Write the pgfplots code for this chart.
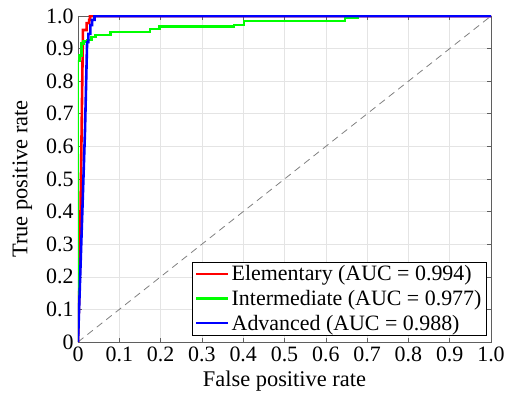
\documentclass[border=0pt]{standalone}
\usepackage{fontspec}
\setmainfont{Liberation Serif}
\usepackage{pgfplots}
\pgfplotsset{compat=1.18}

\definecolor{rocred}{RGB}{255,0,0}
\definecolor{rocgreen}{RGB}{0,255,0}
\definecolor{rocblue}{RGB}{0,0,255}
\definecolor{framegray}{RGB}{95,95,95}
\definecolor{gridgray}{RGB}{228,228,228}

\begin{document}
\begin{tikzpicture}
\begin{axis}[
  width=413bp, height=326bp, scale only axis,
  xmin=0, xmax=1, ymin=0, ymax=1,
  xtick={0,0.1,0.2,0.3,0.4,0.5,0.6,0.7,0.8,0.9,1},
  ytick={0,0.1,0.2,0.3,0.4,0.5,0.6,0.7,0.8,0.9,1},
  xticklabels={0,0.1,0.2,0.3,0.4,0.5,0.6,0.7,0.8,0.9,1.0},
  yticklabels={0,0.1,0.2,0.3,0.4,0.5,0.6,0.7,0.8,0.9,1.0},
  tick label style={font=\fontsize{22}{26}\selectfont},
  xticklabel style={yshift=-1bp},
  yticklabel style={xshift=-1bp},
  tick align=inside, major tick length=4bp,
  tick style={framegray, line width=0.6pt},
  axis line style={framegray, line width=0.8pt},
  grid=major, grid style={gridgray, line width=0.6pt},
  xlabel={False positive rate}, ylabel={True positive rate},
  label style={font=\fontsize{22.5}{26}\selectfont},
  xlabel style={yshift=-3bp},
  ylabel style={yshift=7bp},
  legend style={at={(rel axis cs:0.99,0.02)}, anchor=south east,
    font=\fontsize{22}{26}\selectfont, draw=black, line width=0.9pt,
    row sep=4bp, inner xsep=3bp, inner ysep=1.5bp},
  legend cell align=left,
  legend image code/.code={\draw[#1, line width=2.6pt] (0bp,0bp) -- (32bp,0bp);},
]
\addplot[gray, dashed, line width=0.8pt, dash pattern=on 7bp off 5bp, forget plot]
  coordinates {(0,0) (1,1)};
\addplot[rocred, line width=2.6pt, line join=miter] coordinates {
  (0,0) (0.004,0.2) (0.012,0.957) (0.021,0.957) (0.021,0.978) (0.027,0.978)
  (0.027,0.988) (0.029,0.988) (0.029,1) (1,1)};
\addplot[rocgreen, line width=2.6pt, line join=miter] coordinates {
  (0,0) (0,0.862) (0.004,0.862) (0.004,0.878) (0.008,0.878) (0.008,0.916)
  (0.014,0.916) (0.014,0.921) (0.022,0.921) (0.022,0.926) (0.032,0.926)
  (0.032,0.935) (0.043,0.935) (0.043,0.942) (0.078,0.942) (0.078,0.951)
  (0.174,0.951) (0.174,0.960) (0.198,0.960) (0.198,0.967) (0.378,0.967)
  (0.378,0.973) (0.402,0.973) (0.402,0.985) (0.646,0.985) (0.646,0.994)
  (0.678,0.994) (0.678,1) (1,1)};
\addplot[rocblue, line width=2.6pt, line join=miter] coordinates {
  (0,0) (0.017,0.65) (0.022,0.92) (0.025,0.92) (0.025,0.945) (0.030,0.945)
  (0.030,0.972) (0.034,0.972) (0.034,0.988) (0.040,0.988) (0.040,1) (1,1)};
\legend{Elementary (AUC = 0.994), Intermediate (AUC = 0.977), Advanced (AUC = 0.988)}
\end{axis}
\pgfresetboundingbox
\path (current axis.south west) ++(-78bp,-58bp) rectangle ++(506bp,400bp);
\end{tikzpicture}
\end{document}
